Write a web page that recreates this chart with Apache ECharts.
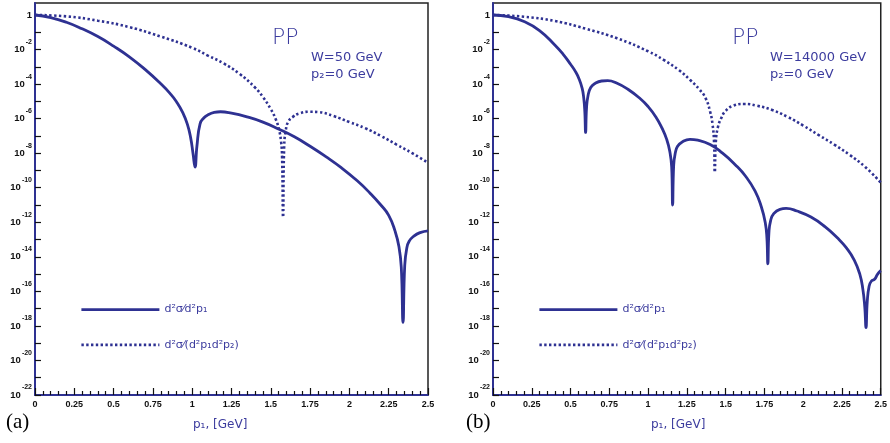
<!DOCTYPE html>
<html><head><meta charset="utf-8">
<script src="https://cdn.jsdelivr.net/npm/echarts@6/dist/echarts.min.js"></script>
<style>html,body{margin:0;padding:0;background:#fff}#c{width:890px;height:443px}</style>
</head><body><div id="c"></div>
<script>
// x positions (p1 in GeV) and log10 of the cross sections
const aSolidP = [0,0.1,0.2,0.3,0.4,0.5,0.6,0.7,0.8,0.86,0.9,0.94,0.97,0.99,1.005,1.018,1.03,1.05,1.075,1.1,1.14,1.18,1.25,1.35,1.45,1.55,1.65,1.75,1.85,1.95,2.05,2.13,2.2,2.25,2.29,2.315,2.33,2.341,2.352,2.365,2.38,2.41,2.45,2.5];
const aSolidLog = [0,-0.15,-0.42,-0.8,-1.25,-1.8,-2.42,-3.15,-3.98,-4.55,-5.02,-5.65,-6.35,-7.1,-8.0,-8.8,-7.6,-6.3,-5.95,-5.78,-5.64,-5.6,-5.68,-5.9,-6.2,-6.6,-7.05,-7.6,-8.2,-8.85,-9.6,-10.3,-11.0,-11.6,-12.5,-13.4,-14.6,-17.8,-14.5,-13.5,-13.1,-12.8,-12.6,-12.5];
const aDotP = [0,0.2,0.4,0.6,0.8,1.0,1.1,1.2,1.3,1.4,1.45,1.5,1.53,1.55,1.565,1.572,1.578,1.585,1.595,1.61,1.64,1.68,1.75,1.8,1.9,2.0,2.1,2.2,2.3,2.4,2.5];
const aDotLog = [0,-0.08,-0.33,-0.7,-1.25,-1.9,-2.35,-2.8,-3.4,-4.2,-4.75,-5.45,-6.0,-6.55,-7.3,-8.3,-11.7,-7.6,-6.7,-6.2,-5.9,-5.7,-5.6,-5.62,-5.85,-6.2,-6.55,-7.0,-7.5,-8.0,-8.55];

const bSolidP = [0,0.1,0.2,0.3,0.4,0.45,0.5,0.53,0.555,0.575,0.585,0.592,0.597,0.603,0.612,0.63,0.66,0.7,0.74,0.8,0.87,0.95,1.0,1.05,1.09,1.12,1.14,1.152,1.158,1.165,1.175,1.19,1.22,1.27,1.32,1.4,1.48,1.56,1.63,1.69,1.73,1.755,1.766,1.772,1.779,1.79,1.81,1.85,1.89,1.96,2.05,2.14,2.22,2.28,2.33,2.365,2.385,2.397,2.405,2.413,2.425,2.44,2.46,2.48,2.5];
const bSolidLog = [0,-0.1,-0.38,-0.9,-1.75,-2.25,-2.85,-3.25,-3.7,-4.25,-4.8,-5.6,-6.8,-5.4,-4.7,-4.2,-3.95,-3.82,-3.8,-3.95,-4.3,-4.85,-5.3,-5.9,-6.55,-7.2,-7.9,-8.8,-11.0,-8.7,-8.0,-7.6,-7.35,-7.2,-7.25,-7.5,-8.0,-8.65,-9.35,-10.2,-11.1,-12.0,-12.9,-14.4,-12.6,-11.9,-11.5,-11.25,-11.2,-11.35,-11.7,-12.25,-12.9,-13.5,-14.2,-15.0,-15.9,-16.9,-18.1,-16.6,-15.7,-15.4,-15.3,-15.0,-14.8];
const bDotP = [0,0.2,0.4,0.6,0.8,1.0,1.1,1.2,1.27,1.33,1.37,1.4,1.415,1.425,1.43,1.437,1.45,1.47,1.5,1.55,1.62,1.7,1.8,1.9,2.0,2.1,2.2,2.3,2.4,2.5];
const bDotLog = [0,-0.1,-0.35,-0.8,-1.35,-2.1,-2.6,-3.2,-3.75,-4.3,-4.8,-5.6,-6.3,-7.3,-9.1,-7.3,-6.5,-6.0,-5.55,-5.25,-5.15,-5.25,-5.5,-5.9,-6.4,-6.95,-7.5,-8.1,-8.8,-9.7];

const xTicks = ['0','0.25','0.5','0.75','1','1.25','1.5','1.75','2','2.25','2.5'];
const yMinExp = -22, yMaxExp = 0.695;
const nameS = 'd²σ⁄d²p₁';
const nameD = 'd²σ⁄(d²p₁d²p₂)';

const LINE = '#2e3192';
const TXT = '#3c3c9e';
function pts(p, l) { return p.map((v, i) => [v, l[i]]); }

function xAxis(gi) {
  return {
    gridIndex: gi, type: 'value', min: 0, max: 2.5, interval: 0.25,
    axisLine: {show: true, onZero: false, lineStyle: {color: LINE, width: 2}},
    axisTick: {inside: true, length: 7, lineStyle: {color: '#111', width: 1.2}},
    minorTick: {show: true, splitNumber: 5, length: 4, lineStyle: {color: '#111', width: 1.2}},
    splitLine: {show: false},
    axisLabel: {margin: 5, fontSize: 9, fontWeight: 'bold', color: '#111', fontFamily: 'Liberation Sans',
      formatter: v => { const i = Math.round(v / 0.25); return Math.abs(v - i * 0.25) < 1e-6 ? xTicks[i] : ''; }}
  };
}
function yAxis(gi) {
  return {
    gridIndex: gi, type: 'value', min: yMinExp, max: yMaxExp, interval: 1,
    axisLine: {show: true, onZero: false, lineStyle: {color: LINE, width: 2}},
    axisTick: {inside: true, length: 6, lineStyle: {color: '#111', width: 1.2}},
    splitLine: {show: false},
    axisLabel: {margin: 3, color: '#111', fontFamily: 'Liberation Sans', showMaxLabel: false,
      formatter: v => {
        const e = Math.round(v);
        if (Math.abs(v - e) > 1e-6 || e % 2 !== 0) return '';
        if (e === 0) return '{b|1}';
        return '{b|10}{s|' + e + '}';
      },
      rich: {
        b: {fontSize: 9.5, fontWeight: 'bold', color: '#111', fontFamily: 'Liberation Sans'},
        s: {fontSize: 7, fontWeight: 'bold', color: '#111', fontFamily: 'Liberation Sans', padding: [0, 0, 15, 1]}
      }
    }
  };
}
function series(gi, name, data, dotted) {
  return {
    type: 'line', name: name, xAxisIndex: gi, yAxisIndex: gi, data: data,
    showSymbol: false, symbol: 'none', smooth: 0.5, silent: true,
    lineStyle: dotted ? {color: LINE, width: 2.6, type: [2.4, 2.4], cap: 'butt'} : {color: LINE, width: 2.8},
    itemStyle: {color: LINE}
  };
}
function legend(left) {
  return {
    left: left, top: 299, orient: 'vertical', itemWidth: 78, itemHeight: 14, itemGap: 24,
    selectedMode: false, data: [nameS, nameD], itemStyle: {opacity: 0},
    lineStyle: {width: 2.8},
    textStyle: {color: TXT, fontSize: 11, fontFamily: 'DejaVu Sans'}
  };
}
function txt(text, left, top, size, extra) {
  return Object.assign({text: text, left: left, top: top, padding: 0,
    textStyle: Object.assign({fontSize: size, fontWeight: 'normal', color: TXT, fontFamily: 'DejaVu Sans'}, extra || {})});
}

const chart = echarts.init(document.getElementById('c'), null, {renderer: 'canvas'});
chart.setOption({
  animation: false,
  backgroundColor: '#fff',
  grid: [
    {left: 35, top: 3, width: 393, bottom: 48, show: true, borderColor: '#222', borderWidth: 1.5},
    {left: 493, top: 3, width: 395, bottom: 48, show: true, borderColor: '#222', borderWidth: 1.5}
  ],
  xAxis: [xAxis(0), xAxis(1)],
  yAxis: [yAxis(0), yAxis(1)],
  legend: [legend(75), legend(533)],
  title: [
    txt('PP', 272, 27, 22, {fontWeight: 200}),
    txt('W=50 GeV', 311, 51, 13),
    txt('p₂=0 GeV', 311, 68, 13),
    txt('PP', 732, 27, 22, {fontWeight: 200}),
    txt('W=14000 GeV', 770, 51, 13),
    txt('p₂=0 GeV', 770, 68, 13),
    txt('p₁, [GeV]', 193, 419, 12),
    txt('p₁, [GeV]', 651, 419, 12),
    txt('(a)', 6, 412, 21, {color: '#000', fontFamily: 'Liberation Serif'}),
    txt('(b)', 466, 412, 21, {color: '#000', fontFamily: 'Liberation Serif'})
  ],
  series: [
    series(0, nameS, pts(aSolidP, aSolidLog), false),
    series(0, nameD, pts(aDotP, aDotLog), true),
    series(1, nameS, pts(bSolidP, bSolidLog), false),
    series(1, nameD, pts(bDotP, bDotLog), true)
  ]
});
</script></body></html>
